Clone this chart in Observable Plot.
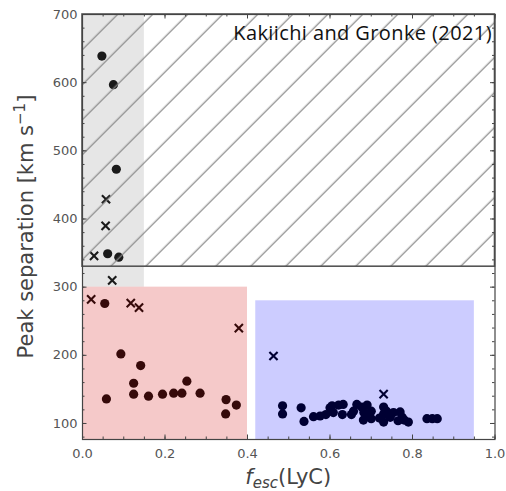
<!DOCTYPE html>
<html><head><meta charset="utf-8">
<script src="https://cdn.jsdelivr.net/npm/d3@7"></script>
<script src="https://cdn.jsdelivr.net/npm/@observablehq/plot@0.6"></script>
<style>html,body{margin:0;padding:0;background:#fff}svg{display:block}</style>
</head><body><div id="chart"></div>
<script>
// ---- data ----
const circleX = [0.047,0.075,0.082,0.061,0.088,
  0.054,0.058,0.093,0.141,0.124,0.124,0.160,0.194,0.221,0.241,0.253,0.285,0.348,0.347,0.373,
  0.485,0.485,0.530,0.537,0.560,0.576,0.590,0.600,0.605,0.608,0.621,0.632,0.630,0.652,0.657,0.665,
  0.677,0.682,0.690,0.690,0.681,0.700,0.700,0.720,0.730,0.730,0.730,0.737,0.746,0.754,0.765,0.770,
  0.775,0.780,0.790,0.835,0.848,0.860];
const circleY = [639,597,473,349,344,
  276,136,202,185,159,143,140,143,144.5,144.5,162,144.5,135,114,127,
  126,114,123,103,110,111,113,123,126,116,127,128,113,113,118,128,
  124,116,127,112,105,107,118,108,124,114,102,118,109,116,104,117,
  109,105,102,107,107,107];
const crossX = [0.057,0.056,0.028,0.072,0.021,0.117,0.137,0.379,0.463,0.730];
const crossY = [429,390,346,310,282,276.5,270,240,199,143];

const xTicks = [0, 0.2, 0.4, 0.6, 0.8, 1.0];
const yTicks = [100, 200, 300, 400, 500, 600, 700];
const xMinorTicks = d3.range(0, 1.0001, 0.05);
const yMinorTicks = d3.range(80, 700.1, 20);
const yMin = 76.5, yMax = 700;

// shaded regions
const regionName = ["gray", "pink", "blue"];
const regionX1 = [0, 0, 0.42];
const regionX2 = [0.15, 0.4, 0.95];
const regionY1 = [300, yMin, yMin];
const regionY2 = [700, 300, 280];
const regionColor = ["#808080", "#d62728", "#0000ff"];
const regionOpacity = [0.2, 0.25, 0.2];
const hatchY1 = 330, hatchY2 = 700;

const annotation = "Kakiichi and Gronke (2021)";

// ---- tables ----
const circles = circleX.map((x, i) => ({x, y: circleY[i]}));
const crosses = crossX.map((x, i) => ({x, y: crossY[i]}));
const regions = regionName.map((n, i) => ({n, x1: regionX1[i], x2: regionX2[i], y1: regionY1[i], y2: regionY2[i], c: regionColor[i], o: regionOpacity[i]}));
const hatch = [{x1: 0, x2: 1, y1: hatchY1, y2: hatchY2}];

const W = 506, H = 491, mL = 82, mR = 11.5, mT = 14, mB = 52;
const FW = W - mL - mR, FH = H - mT - mB;
const axisStroke = "#444";

// inward ticks on all four sides
const ticksX = (ticks, len) => [
  Plot.ruleX(ticks, {x: d => d, insetTop: FH - len, stroke: axisStroke, strokeWidth: 1}),
  Plot.ruleX(ticks, {x: d => d, insetBottom: FH - len, stroke: axisStroke, strokeWidth: 1})
];
const ticksY = (ticks, len) => [
  Plot.ruleY(ticks, {y: d => d, insetRight: FW - len, stroke: axisStroke, strokeWidth: 1}),
  Plot.ruleY(ticks, {y: d => d, insetLeft: FW - len, stroke: axisStroke, strokeWidth: 1})
];

const plot = Plot.plot({
  width: W, height: H,
  marginLeft: mL, marginRight: mR, marginTop: mT, marginBottom: mB,
  x: {domain: [0, 1]},
  y: {domain: [yMin, yMax]},
  style: {fontFamily: "DejaVu Sans", fontSize: "13px", color: "#555", background: "#fff", overflow: "visible"},
  marks: [
    Plot.dot(circles, {x: "x", y: "y", r: 4.6, fill: "#000"}),
    Plot.dot(crosses, {x: "x", y: "y", r: 3.8, symbol: "times", stroke: "#000", strokeWidth: 2.1}),
    Plot.rect(regions, {x1: "x1", x2: "x2", y1: "y1", y2: "y2", fill: d => d.c, fillOpacity: d => d.o}),
    Plot.rect(hatch, {x1: "x1", x2: "x2", y1: "y1", y2: "y2", fill: "url(#hatch)", stroke: "#555", strokeWidth: 1.6}),
    Plot.axisX(xTicks, {anchor: "bottom", tickSize: 0, tickPadding: 9, tickFormat: d3.format(".1f"), label: null, fill: "#555"}),
    Plot.axisY(yTicks, {anchor: "left", tickSize: 0, tickPadding: 5, label: null, fill: "#555"}),
    ...ticksX(xTicks, 4.5), ...ticksX(xMinorTicks, 2.5),
    ...ticksY(yTicks, 4.5), ...ticksY(yMinorTicks, 2.5),
    Plot.frame({stroke: axisStroke, strokeWidth: 1.2}),
    Plot.text([annotation], {frameAnchor: "top-right", dx: -3, dy: 11, fontFamily: "Open Sans", fontSize: 20, fill: "#111", textAnchor: "end"})
  ]
});

// hatch pattern and math-style axis labels
const svg = d3.select(plot);
svg.selectAll("text").filter(function () { return this.textContent === annotation; })
  .style("letter-spacing", "0.4px");
const defs = svg.insert("defs", ":first-child");
const s = 35 / Math.SQRT2;
const pat = defs.append("pattern").attr("id", "hatch").attr("patternUnits", "userSpaceOnUse")
  .attr("width", s).attr("height", s).attr("patternTransform", "rotate(45)");
pat.append("line").attr("x1", 27 / Math.SQRT2).attr("x2", 27 / Math.SQRT2).attr("y1", -1).attr("y2", s + 1)
  .attr("stroke", "#858585").attr("stroke-width", 1.2);

const cx = mL + FW / 2;
const xl = svg.append("text").attr("x", cx).attr("y", H - 7).attr("text-anchor", "middle")
  .attr("font-family", "DejaVu Sans").attr("font-size", 21).attr("fill", "#444");
xl.append("tspan").attr("font-style", "italic").text("f");
xl.append("tspan").attr("font-style", "italic").attr("font-size", 15).attr("dy", 4).text("esc");
xl.append("tspan").attr("dy", -4).text("(LyC)");

const cy = mT + FH / 2;
const yl = svg.append("text").attr("transform", `translate(33,${cy}) rotate(-90)`).attr("text-anchor", "middle")
  .attr("font-family", "DejaVu Sans").attr("font-size", 21).attr("fill", "#444");
yl.append("tspan").text("Peak separation [km s");
yl.append("tspan").attr("font-size", 15).attr("dy", -8).text("−1");
yl.append("tspan").attr("dy", 8).text("]");

document.getElementById("chart").appendChild(plot);
</script>
</body></html>
